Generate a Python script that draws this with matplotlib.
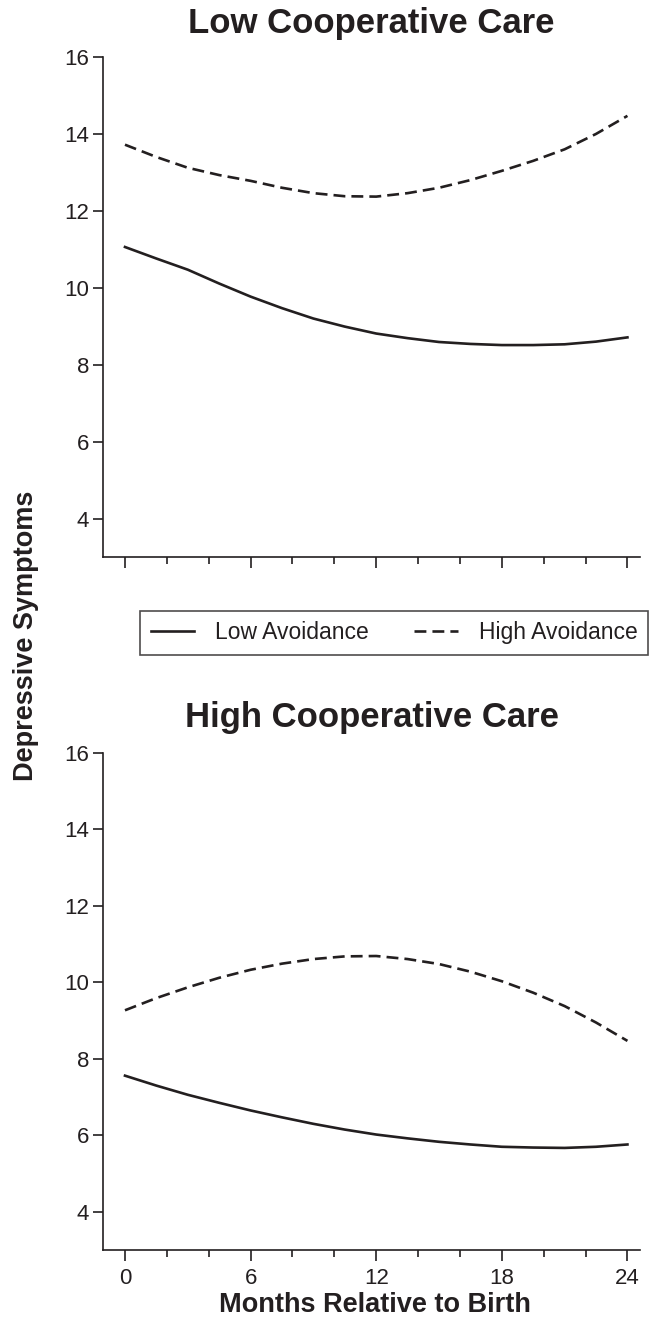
import matplotlib
matplotlib.use("Agg")
import matplotlib.pyplot as plt
from matplotlib.lines import Line2D
from matplotlib.ticker import MultipleLocator

plt.rcParams['font.family'] = ['Liberation Sans', 'DejaVu Sans']

# months relative to birth
months = [0, 1.5, 3, 4.5, 6, 7.5, 9, 10.5, 12, 13.5, 15, 16.5, 18, 19.5, 21, 22.5, 24]

# Low cooperative care
low_care_low_avoid = [11.06, 10.76, 10.47, 10.11, 9.77, 9.47, 9.20, 8.99, 8.81,
                      8.69, 8.59, 8.54, 8.51, 8.51, 8.53, 8.60, 8.71]
low_care_high_avoid = [13.72, 13.40, 13.12, 12.93, 12.78, 12.60, 12.46, 12.38, 12.37,
                       12.46, 12.60, 12.80, 13.04, 13.30, 13.60, 14.00, 14.47]

# High cooperative care
high_care_low_avoid = [7.56, 7.30, 7.06, 6.85, 6.65, 6.47, 6.30, 6.15, 6.02,
                       5.92, 5.83, 5.76, 5.70, 5.68, 5.67, 5.70, 5.76]
high_care_high_avoid = [9.27, 9.59, 9.87, 10.12, 10.33, 10.49, 10.61, 10.68, 10.69,
                        10.61, 10.48, 10.28, 10.03, 9.73, 9.38, 8.95, 8.47]

titles = ["Low Cooperative Care", "High Cooperative Care"]
series = [(low_care_low_avoid, low_care_high_avoid),
          (high_care_low_avoid, high_care_high_avoid)]
yticks = [4, 6, 8, 10, 12, 14, 16]
xticks = [0, 6, 12, 18, 24]

W, H = 654, 1330
fig = plt.figure(figsize=(W / 100, H / 100), dpi=100)

# axes boxes in pixels: left, top, right, bottom
boxes = [(103, 57, 640, 557), (103, 753, 640, 1250)]
title_y = [23, 717]

col = '#231f20'
dash = (4.5, 2.3)

for i, (l, t, r, b) in enumerate(boxes):
    ax = fig.add_axes([l / W, 1 - b / H, (r - l) / W, (b - t) / H])
    lo, hi = series[i]
    ax.plot(months, lo, color=col, lw=1.9, solid_joinstyle='round')
    ax.plot(months, hi, color=col, lw=1.9, dashes=dash)

    ax.set_xlim(-1.05, 24.6)
    ax.set_ylim(3, 16)
    ax.set_yticks(yticks)
    ax.set_xticks(xticks)
    ax.xaxis.set_minor_locator(MultipleLocator(2))
    for s in ['top', 'right']:
        ax.spines[s].set_visible(False)
    for s in ['left', 'bottom']:
        ax.spines[s].set_linewidth(1.2)
        ax.spines[s].set_color(col)
    ax.tick_params(axis='y', direction='out', length=7, width=1.2, pad=3,
                   labelsize=16, colors=col)
    ax.tick_params(axis='x', which='major', direction='out', length=8,
                   width=1.2, pad=5, labelsize=16, colors=col)
    ax.tick_params(axis='x', which='minor', direction='out', length=5,
                   width=1.2, colors=col)
    if i == 0:
        ax.tick_params(axis='x', labelbottom=False)
    fig.text((l + r) / 2 / W, 1 - title_y[i] / H, titles[i], ha='center',
             va='center', fontsize=25, fontweight='bold', color=col)

handles = [Line2D([], [], color=col, lw=1.9),
           Line2D([], [], color=col, lw=1.9, dashes=dash)]
leg = fig.legend(handles, ['Low Avoidance', 'High Avoidance'], ncol=2,
                 loc='center', bbox_to_anchor=(394 / W, 1 - 633 / H),
                 fontsize=16.5, frameon=True, fancybox=False, edgecolor=col,
                 handlelength=1.9, columnspacing=2.0, borderpad=0.45,
                 handletextpad=0.9, borderaxespad=0)
leg.get_frame().set_linewidth(1.2)
for txt in leg.get_texts():
    txt.set_color(col)

fig.text(26 / W, 1 - 636 / H, 'Depressive Symptoms', rotation=90,
         ha='center', va='center', fontsize=19.5, fontweight='bold', color=col)
fig.text(375 / W, 1 - 1305 / H, 'Months Relative to Birth',
         ha='center', va='center', fontsize=19.5, fontweight='bold', color=col)

fig.savefig('out.png', dpi=100, facecolor='white')
